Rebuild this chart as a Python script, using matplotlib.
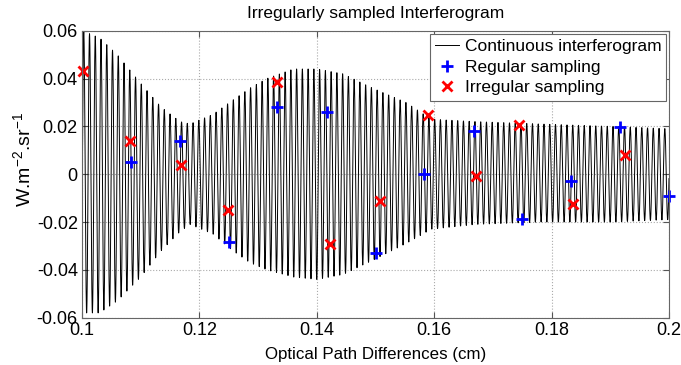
import numpy as np
import matplotlib
matplotlib.use("Agg")
import matplotlib.pyplot as plt

# envelope of the continuous interferogram
env_x = [0.100, 0.103, 0.106, 0.110, 0.1135, 0.1167, 0.1184, 0.1223, 0.1257, 0.1286,
         0.1315, 0.1360, 0.1400, 0.1444, 0.1495, 0.1552, 0.1595, 0.1670, 0.1780, 0.1900, 0.2000]
env_up = [0.060, 0.057, 0.050, 0.038, 0.028, 0.022, 0.021, 0.025, 0.031, 0.036,
          0.040, 0.044, 0.044, 0.042, 0.036, 0.030, 0.023, 0.022, 0.021, 0.020, 0.019]
env_lo = [-0.058, -0.058, -0.053, -0.043, -0.032, -0.024, -0.021, -0.025, -0.032, -0.037,
          -0.040, -0.043, -0.044, -0.042, -0.036, -0.029, -0.023, -0.021, -0.020, -0.020, -0.019]
fringe_period = 0.00098  # cm, ~102 fringes across the window
first_peak = 0.1003

# regular sampling (blue +)
reg_x = [0.1083, 0.1167, 0.1250, 0.1333, 0.1417, 0.1500, 0.1583, 0.1667, 0.1750, 0.1833, 0.1917, 0.2000]
reg_y = [0.0052, 0.0138, -0.0282, 0.0283, 0.0262, -0.0328, 0.0000, 0.0179, -0.0187, -0.0029, 0.0197, -0.0092]

# irregular sampling (red x)
irr_x = [0.1002, 0.1082, 0.1169, 0.1249, 0.1332, 0.1423, 0.1507, 0.1590, 0.1671, 0.1745, 0.1837, 0.1925]
irr_y = [0.0433, 0.0139, 0.0039, -0.0150, 0.0386, -0.0293, -0.0113, 0.0246, -0.0007, 0.0207, -0.0126, 0.0079]

plt.rcParams.update({
    "font.family": ["Liberation Sans", "DejaVu Sans"],
    "font.size": 12,
    "mathtext.default": "regular",
})

x = np.linspace(0.1, 0.2, 20001)
up = np.interp(x, env_x, env_up)
lo = np.interp(x, env_x, env_lo)
y = (up + lo) / 2 + (up - lo) / 2 * np.cos(2 * np.pi * (x - first_peak) / fringe_period)

fig = plt.figure(figsize=(6.81, 3.65), dpi=100)
ax = fig.add_axes([0.1204, 0.1296, 0.9824 - 0.1204, 0.9159 - 0.1296])

ax.plot(x, y, color="black", lw=0.7, label="Continuous interferogram")
ax.plot(reg_x, reg_y, ls="none", marker="+", ms=9, mew=2, color="#0000ff",
        label="Regular sampling", clip_on=False)
ax.plot(irr_x, irr_y, ls="none", marker="x", ms=7, mew=2, color="#ff0000",
        label="Irregular sampling", clip_on=False)

ax.set_xlim(0.1, 0.2)
ax.set_ylim(-0.06, 0.06)
ax.set_xticks([0.1, 0.12, 0.14, 0.16, 0.18, 0.2])
ax.set_xticklabels(["0.1", "0.12", "0.14", "0.16", "0.18", "0.2"])
ax.set_yticks([-0.06, -0.04, -0.02, 0, 0.02, 0.04, 0.06])
ax.set_yticklabels(["-0.06", "-0.04", "-0.02", "0", "0.02", "0.04", "0.06"])
ax.tick_params(direction="in", top=True, right=True, labelsize=13, length=4,
               color="#555555", pad=3)
ax.grid(True, ls=":", color="#aaaaaa", lw=0.8)
for s in ax.spines.values():
    s.set_color("#666666")

ax.set_title("Irregularly sampled Interferogram", fontsize=12.5, pad=9)
ax.set_xlabel("Optical Path Differences (cm)", fontsize=12.2, labelpad=6)
ax.set_ylabel("W.m$^{-2}$.sr$^{-1}$", fontsize=14)
ax.yaxis.set_label_coords(-0.082, 0.55)

leg = ax.legend(loc="upper right", bbox_to_anchor=(0.9955, 0.99), fontsize=12.5,
                frameon=True, fancybox=False, framealpha=1, edgecolor="#666666",
                handlelength=1.4, handletextpad=0.3, borderpad=0.3, labelspacing=0.32,
                borderaxespad=0)
leg.get_frame().set_linewidth(0.8)

fig.savefig("out.png", dpi=100)
